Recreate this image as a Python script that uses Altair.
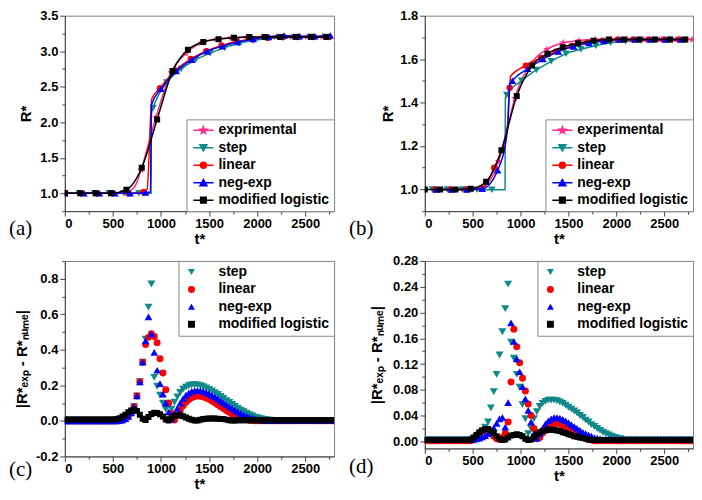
import altair as alt
import pandas as pd

# ---------------- panel (a): R* vs t* ----------------
a_names = ["exprimental", "step", "linear", "neg-exp", "modified logistic"]

a_exp_t = [0, 155, 320, 475, 640, 794, 948, 1105, 1260, 1420, 1575, 1730, 1890, 2050, 2200, 2360, 2520, 2680]
a_exp_r = [1.0, 1.0, 1.0, 1.0, 1.02, 1.33, 2.07, 2.70, 2.97, 3.12, 3.17, 3.19, 3.20, 3.20, 3.20, 3.20, 3.20, 3.20]
a_exp_xt = [720, 870]
a_exp_xr = [1.08, 1.70]

a_step_t = [0, 150, 310, 460, 615, 770, 918, 1060, 1210, 1360, 1510, 1660, 1810, 1960, 2110, 2260, 2410, 2560, 2710]
a_step_r = [1.0, 1.0, 1.0, 1.0, 1.0, 1.0, 2.2, 2.56, 2.75, 2.88, 2.97, 3.05, 3.11, 3.15, 3.18, 3.19, 3.20, 3.20, 3.20]
a_step_xt = [897, 900]
a_step_xr = [1.0, 2.12]

a_lin_t = [0, 170, 330, 500, 660, 820, 990, 1150, 1310, 1470, 1630, 1790, 1950, 2110, 2270, 2430, 2590, 2750]
a_lin_r = [1.0, 1.0, 1.0, 1.0, 1.0, 1.02, 2.48, 2.73, 2.89, 3.0, 3.08, 3.14, 3.17, 3.19, 3.20, 3.20, 3.20, 3.20]
a_lin_xt = [855, 905]
a_lin_xr = [1.05, 2.33]

a_neg_t = [0, 200, 360, 520, 680, 840, 1000, 1160, 1320, 1480, 1640, 1800, 1960, 2120, 2280, 2440, 2600, 2760]
a_neg_r = [1.0, 1.0, 1.0, 1.0, 1.0, 1.01, 2.47, 2.72, 2.88, 3.0, 3.07, 3.13, 3.17, 3.20, 3.22, 3.21, 3.21, 3.22]
a_neg_xt = [890, 902]
a_neg_xr = [1.02, 2.25]

a_log_t = [0, 160, 320, 480, 640, 800, 960, 1120, 1280, 1440, 1600, 1760, 1920, 2080, 2240, 2400, 2560, 2720]
a_log_r = [1.0, 1.0, 1.0, 1.0, 1.05, 1.36, 2.04, 2.72, 3.02, 3.13, 3.17, 3.19, 3.20, 3.20, 3.20, 3.20, 3.20, 3.20]

# ---------------- panel (b): R* vs t* ----------------
b_names = ["experimental", "step", "linear", "neg-exp", "modified logistic"]

b_exp_t = [95, 265, 430, 600, 770, 940, 1110, 1275, 1445, 1610, 1780, 1950, 2115, 2285, 2450, 2620, 2790]
b_exp_r = [1.0, 1.0, 1.0, 1.01, 1.13, 1.42, 1.58, 1.645, 1.675, 1.685, 1.69, 1.69, 1.69, 1.69, 1.69, 1.69, 1.69]
b_exp_xt = [870]
b_exp_xr = [1.3]

b_step_t = [80, 235, 390, 545, 700, 855, 1010, 1165, 1320, 1475, 1630, 1785, 1940, 2095, 2250, 2405, 2560, 2715]
b_step_r = [1.0, 1.0, 1.0, 0.998, 0.998, 1.435, 1.50, 1.55, 1.59, 1.625, 1.645, 1.662, 1.675, 1.682, 1.686, 1.688, 1.688, 1.688]
b_step_xt = [838, 841]
b_step_xr = [0.998, 1.42]

b_lin_t = [110, 270, 430, 590, 725, 886, 1055, 1215, 1375, 1535, 1695, 1855, 2015, 2175, 2335, 2495, 2655]
b_lin_r = [1.0, 1.0, 1.0, 1.005, 1.1, 1.468, 1.57, 1.605, 1.635, 1.66, 1.676, 1.685, 1.69, 1.69, 1.69, 1.69, 1.69]
b_lin_xt = [860, 895]
b_lin_xr = [1.28, 1.52]

b_neg_t = [120, 280, 440, 600, 761, 915, 1075, 1235, 1395, 1555, 1715, 1875, 2035, 2195, 2355, 2515, 2675]
b_neg_r = [1.0, 1.0, 1.0, 1.003, 1.088, 1.50, 1.555, 1.60, 1.635, 1.658, 1.674, 1.684, 1.69, 1.69, 1.69, 1.69, 1.69]
b_neg_xt = [865, 885]
b_neg_xr = [1.28, 1.48]

b_log_t = [0, 160, 320, 480, 640, 800, 960, 1120, 1280, 1440, 1600, 1760, 1920, 2080, 2240, 2400, 2560, 2720]
b_log_r = [1.0, 1.0, 1.0, 1.003, 1.035, 1.18, 1.43, 1.57, 1.625, 1.655, 1.673, 1.685, 1.69, 1.69, 1.69, 1.69, 1.69, 1.69]

# ---------------- panels (c), (d): |R*exp - R*nume| ----------------
cd_names = ["step", "linear", "neg-exp", "modified logistic"]
cd_t = list(range(0, 2800, 30))

c_step = [0, 0, 0, 0, 0, 0, 0, 0, 0, 0,
          0, 0, 0, 0, 0, 0, 0, 0, 0, 0.002,
          0.005, 0.012, 0.025, 0.045, 0.08, 0.14, 0.22, 0.33, 0.46, 0.64,
          0.77, 0.245, 0.195, 0.145, 0.10, 0.065, 0.01, 0.065, 0.105, 0.135,
          0.16, 0.178, 0.19, 0.198, 0.202, 0.203, 0.202, 0.198, 0.192, 0.185,
          0.177, 0.168, 0.158, 0.148, 0.137, 0.126, 0.114, 0.103, 0.092, 0.081,
          0.07, 0.06, 0.051, 0.042, 0.034, 0.027, 0.021, 0.016, 0.012, 0.008,
          0.006, 0.004, 0.003, 0.003, 0.003, 0.003, 0.003, 0.003, 0.003, 0.003,
          0.003, 0.003, 0.003, 0.003, 0.003, 0.003, 0.003, 0.003, 0.003, 0.003,
          0.003, 0.003, 0.003, 0.003]
c_lin = [0, 0, 0, 0, 0, 0, 0, 0, 0, 0,
         0, 0, 0, 0, 0, 0, 0, 0, 0, 0.002,
         0.005, 0.012, 0.025, 0.045, 0.08, 0.14, 0.22, 0.33, 0.43, 0.47,
         0.49, 0.475, 0.44, 0.35, 0.27, 0.175, 0.10, 0.04, 0.005, 0.03,
         0.06, 0.085, 0.105, 0.12, 0.13, 0.137, 0.14, 0.139, 0.135, 0.129,
         0.121, 0.112, 0.102, 0.091, 0.08, 0.069, 0.058, 0.048, 0.039, 0.03,
         0.023, 0.016, 0.011, 0.007, 0.004, 0.002, 0, 0, 0, 0,
         0, 0, 0, 0, 0, 0, 0, 0, 0, 0,
         0, 0, 0, 0, 0, 0, 0, 0, 0, 0,
         0, 0, 0, 0]
c_neg = [0, 0, 0, 0, 0, 0, 0, 0, 0, 0,
         0, 0, 0, 0, 0, 0, 0, 0, 0, 0.002,
         0.005, 0.012, 0.025, 0.045, 0.08, 0.14, 0.22, 0.33, 0.45, 0.585,
         0.49, 0.385, 0.285, 0.21, 0.15, 0.10, 0.05, 0.01, 0.04, 0.07,
         0.10, 0.125, 0.145, 0.158, 0.166, 0.17, 0.171, 0.17, 0.166, 0.16,
         0.153, 0.144, 0.135, 0.125, 0.114, 0.103, 0.092, 0.081, 0.07, 0.06,
         0.051, 0.042, 0.034, 0.027, 0.021, 0.016, 0.012, 0.008, 0.006, 0.004,
         0.003, 0.003, 0.003, 0.003, 0.003, 0.003, 0.003, 0.003, 0.003, 0.003,
         0.003, 0.003, 0.003, 0.003, 0.003, 0.003, 0.003, 0.003, 0.003, 0.003,
         0.003, 0.003, 0.003, 0.003]
c_log = [0.008, 0.008, 0.008, 0.008, 0.008, 0.008, 0.008, 0.008, 0.008, 0.008,
         0.008, 0.008, 0.008, 0.008, 0.008, 0.008, 0.008, 0.008, 0.01, 0.015,
         0.025, 0.035, 0.048, 0.058, 0.063, 0.055, 0.035, 0.012, 0.005, 0.022,
         0.038, 0.046, 0.045, 0.037, 0.024, 0.008, 0.002, 0.014, 0.027, 0.032,
         0.031, 0.026, 0.019, 0.012, 0.006, 0.002, 0.002, 0.006, 0.01, 0.012,
         0.013, 0.013, 0.013, 0.012, 0.011, 0.01, 0.007, 0.004, 0.002, 0.002,
         0.003, 0.004, 0.004, 0.004, 0.004, 0.004, 0.004, 0.004, 0.004, 0.004,
         0.004, 0.004, 0.004, 0.004, 0.004, 0.004, 0.004, 0.004, 0.004, 0.004,
         0.004, 0.004, 0.004, 0.004, 0.004, 0.004, 0.004, 0.004, 0.004, 0.004,
         0.004, 0.004, 0.004, 0.004]

d_step = [0.002, 0.002, 0.002, 0.002, 0.002, 0.002, 0.002, 0.002, 0.002, 0.002,
          0.002, 0.002, 0.002, 0.002, 0.002, 0.002, 0.002, 0.004, 0.007, 0.011,
          0.016, 0.022, 0.03, 0.052, 0.077, 0.104, 0.134, 0.17, 0.206, 0.244,
          0.154, 0.129, 0.104, 0.084, 0.057, 0.035, 0.012, 0.02, 0.035, 0.046,
          0.054, 0.059, 0.062, 0.064, 0.064, 0.064, 0.063, 0.061, 0.059, 0.056,
          0.053, 0.05, 0.047, 0.044, 0.04, 0.037, 0.033, 0.03, 0.026, 0.023,
          0.02, 0.017, 0.014, 0.012, 0.01, 0.008, 0.006, 0.005, 0.004, 0.003,
          0.002, 0.002, 0.002, 0.002, 0.002, 0.002, 0.002, 0.002, 0.002, 0.002,
          0.002, 0.002, 0.002, 0.002, 0.002, 0.002, 0.002, 0.002, 0.002, 0.002,
          0.002, 0.002, 0.002, 0.002]
d_lin = [0.001, 0.001, 0.001, 0.001, 0.001, 0.001, 0.001, 0.001, 0.001, 0.001,
         0.001, 0.001, 0.001, 0.001, 0.001, 0.001, 0.001, 0.003, 0.007, 0.012,
         0.016, 0.018, 0.017, 0.013, 0.008, 0.004, 0.003, 0.006, 0.012, 0.03,
         0.092, 0.174, 0.147, 0.122, 0.098, 0.078, 0.058, 0.04, 0.02, 0.004,
         0.006, 0.013, 0.019, 0.024, 0.027, 0.028, 0.028, 0.027, 0.025, 0.023,
         0.02, 0.017, 0.014, 0.011, 0.009, 0.007, 0.005, 0.003, 0.002, 0.001,
         0.001, 0.001, 0.001, 0.001, 0.001, 0.001, 0.001, 0.001, 0.001, 0.001,
         0.001, 0.001, 0.001, 0.001, 0.001, 0.001, 0.001, 0.001, 0.001, 0.001,
         0.001, 0.001, 0.001, 0.001, 0.001, 0.001, 0.001, 0.001, 0.001, 0.001,
         0.001, 0.001, 0.001, 0.001]
d_neg = [0.003, 0.003, 0.003, 0.003, 0.003, 0.003, 0.003, 0.003, 0.003, 0.003,
         0.003, 0.003, 0.003, 0.003, 0.003, 0.003, 0.003, 0.003, 0.004, 0.005,
         0.007, 0.009, 0.012, 0.016, 0.021, 0.028, 0.035, 0.037, 0.022, 0.06,
         0.184, 0.155, 0.128, 0.108, 0.085, 0.066, 0.048, 0.03, 0.012, 0.005,
         0.012, 0.02, 0.027, 0.032, 0.035, 0.037, 0.037, 0.036, 0.034, 0.032,
         0.029, 0.026, 0.023, 0.02, 0.017, 0.014, 0.012, 0.01, 0.008, 0.006,
         0.005, 0.004, 0.003, 0.003, 0.003, 0.003, 0.003, 0.003, 0.003, 0.003,
         0.003, 0.003, 0.003, 0.003, 0.003, 0.003, 0.003, 0.003, 0.003, 0.003,
         0.003, 0.003, 0.003, 0.003, 0.003, 0.003, 0.003, 0.003, 0.003, 0.003,
         0.003, 0.003, 0.003, 0.003]
d_log = [0.002, 0.002, 0.002, 0.002, 0.002, 0.002, 0.002, 0.002, 0.002, 0.002,
         0.002, 0.002, 0.002, 0.002, 0.002, 0.002, 0.003, 0.006, 0.01, 0.014,
         0.017, 0.019, 0.019, 0.017, 0.013, 0.008, 0.004, 0.002, 0.003, 0.006,
         0.009, 0.01, 0.011, 0.01, 0.008, 0.004, 0.002, 0.003, 0.007, 0.011,
         0.014, 0.016, 0.017, 0.018, 0.018, 0.018, 0.017, 0.016, 0.014, 0.013,
         0.011, 0.01, 0.008, 0.007, 0.006, 0.005, 0.004, 0.003, 0.002, 0.002,
         0.002, 0.002, 0.002, 0.002, 0.002, 0.002, 0.002, 0.002, 0.002, 0.002,
         0.002, 0.002, 0.002, 0.002, 0.002, 0.002, 0.002, 0.002, 0.002, 0.002,
         0.002, 0.002, 0.002, 0.002, 0.002, 0.002, 0.002, 0.002, 0.002, 0.002,
         0.002, 0.002, 0.002, 0.002]

# axis tick positions
x_ticks = [0, 250, 500, 750, 1000, 1250, 1500, 1750, 2000, 2250, 2500, 2750]
a_yticks = [0.75, 1.0, 1.25, 1.5, 1.75, 2.0, 2.25, 2.5, 2.75, 3.0, 3.25, 3.5]
b_yticks = [0.9, 1.0, 1.1, 1.2, 1.3, 1.4, 1.5, 1.6, 1.7, 1.8]
c_yticks = [-0.2, -0.1, 0.0, 0.1, 0.2, 0.3, 0.4, 0.5, 0.6, 0.7, 0.8, 0.9]
d_yticks = [0.0, 0.02, 0.04, 0.06, 0.08, 0.10, 0.12, 0.14, 0.16, 0.18, 0.20, 0.22, 0.24, 0.26, 0.28]

# ---------------- styling ----------------
FONT = "Liberation Sans"
SERIF = "Liberation Serif"
C_EXP, C_STEP, C_LIN, C_NEG, C_LOG = "#FF2A8C", "#0F8A8A", "#FF0000", "#0000FF", "#000000"
STAR = ("M0,-1L0.235,-0.324L0.951,-0.309L0.38,0.124L0.588,0.809L0,0.4"
        "L-0.588,0.809L-0.38,0.124L-0.951,-0.309L-0.235,-0.324Z")
TRI_UP = "M0,-0.9L1,0.85L-1,0.85Z"
TRI_DN = "M0,0.9L1,-0.85L-1,-0.85Z"
CIRC = "M-0.85,0A0.85,0.85 0 1,0 0.85,0A0.85,0.85 0 1,0 -0.85,0Z"
SQR = "M-0.8,-0.8H0.8V0.8H-0.8Z"
SEG = "M-2.9,0H2.9"
XS = alt.Scale(domain=[0, 2800], nice=False, zero=False)

AX_STYLE = dict(labelFont=FONT, labelFontWeight="bold", labelFontSize=13, labelColor="black",
                titleFont=FONT, titleFontWeight="bold", titleFontSize=15, titleColor="black",
                domainColor="#444444", tickColor="#444444", grid=False, labelOverlap=False)


def is_major(step):
    return f"abs(datum.value / {step} - round(datum.value / {step})) < 1e-6"


def x_axis():
    test = is_major(500)
    return alt.Axis(values=x_ticks, title="t*", labelExpr=f"{test} ? format(datum.value, 'd') : ''",
                    tickSize={"condition": {"test": test, "value": 5}, "value": 3},
                    labelPadding=1, titlePadding=1, **AX_STYLE)


def y_axis(values, step, fmt, title, tpad):
    test = is_major(step)
    return alt.Axis(values=values, title=title,
                    labelExpr=f"{test} ? replace(format(datum.value, '{fmt}'), '\u2212', '-') : ''",
                    tickSize={"condition": {"test": test, "value": 5}, "value": 3},
                    labelPadding=2, titlePadding=tpad, **AX_STYLE)


def legend(orient, label_offset, symbol_offset):
    return alt.Legend(title=None, orient=orient, offset=0, padding=4, rowPadding=3.5,
                      labelFont=FONT, labelFontWeight="bold", labelFontSize=14, labelColor="black",
                      labelOffset=label_offset, symbolOffset=symbol_offset, symbolSize=49,
                      symbolStrokeWidth=1.5, symbolOpacity=1, strokeColor="#8a8a8a",
                      fillColor="white", labelLimit=260)


def enc(ys, xax, yax):
    return dict(x=alt.X("t:Q", scale=XS, axis=xax), y=alt.Y("v:Q", scale=ys, axis=yax))


def tag_layer(tag, dx, dy):
    return alt.Chart(pd.DataFrame({"tag": [tag]})).mark_text(
        font=SERIF, fontSize=21, align="left", baseline="middle", color="black"
    ).encode(x=alt.value(dx), y=alt.value(dy), text="tag:N")


def line_panel(series, names, ydom, yax, W, H, tag, tag_dx, tag_dy):
    ys = alt.Scale(domain=ydom, nice=False, zero=False)
    xax = x_axis()
    layers = []
    for (mt, mv, xt, xv, color, shape, size) in series:
        ldf = pd.DataFrame({"t": mt + xt, "v": mv + xv}).sort_values("t")
        layers.append(alt.Chart(ldf).mark_line(color=color, strokeWidth=1.5, interpolate="monotone",
                                                clip=True).encode(**enc(ys, xax, yax)))
        layers.append(alt.Chart(pd.DataFrame({"t": mt, "v": mv})).mark_point(
            shape=shape, filled=True, size=size, color=color, opacity=1, clip=True
        ).encode(**enc(ys, xax, yax)))
    colors = [s[4] for s in series]
    paths = [SEG + p for p in [STAR, TRI_DN, CIRC, TRI_UP, SQR]]
    lg = legend("bottom-right", 8, 6)
    ldf = pd.DataFrame({"t": [s[0][0] for s in series], "v": [s[1][0] for s in series], "series": names})
    layers.append(alt.Chart(ldf).mark_point(filled=True, opacity=0).encode(
        **enc(ys, xax, yax),
        fill=alt.Fill("series:N", scale=alt.Scale(domain=names, range=colors), legend=lg),
        stroke=alt.Stroke("series:N", scale=alt.Scale(domain=names, range=colors), legend=lg),
        shape=alt.Shape("series:N", scale=alt.Scale(domain=names, range=paths), legend=lg),
    ))
    layers.append(tag_layer(tag, tag_dx, H + tag_dy))
    return alt.layer(*layers).properties(width=W, height=H)


def scatter_panel(values, ydom, yax, W, H, tag, tag_dx, tag_dy):
    ys = alt.Scale(domain=ydom, nice=False, zero=False)
    xax = x_axis()
    colors = [C_STEP, C_LIN, C_NEG, C_LOG]
    shapes = ["triangle-down", "circle", "triangle-up", "square"]
    sizes = [64, 49, 60, 36]
    layers = []
    for vals, c, s, sz in zip(values, colors, shapes, sizes):
        layers.append(alt.Chart(pd.DataFrame({"t": cd_t, "v": vals})).mark_point(
            shape=s, filled=True, size=sz, color=c, opacity=1, clip=True
        ).encode(**enc(ys, xax, yax)))
    lg = legend("top-right", 20, 2)
    ldf = pd.DataFrame({"t": [cd_t[0]] * 4, "v": [v[0] for v in values], "series": cd_names})
    layers.append(alt.Chart(ldf).mark_point(filled=True, opacity=0).encode(
        **enc(ys, xax, yax),
        fill=alt.Fill("series:N", scale=alt.Scale(domain=cd_names, range=colors), legend=lg),
        shape=alt.Shape("series:N", scale=alt.Scale(domain=cd_names, range=shapes), legend=lg),
    ))
    layers.append(tag_layer(tag, tag_dx, H + tag_dy))
    return alt.layer(*layers).properties(width=W, height=H)


pa = line_panel(
    [(a_exp_t, a_exp_r, a_exp_xt, a_exp_xr, C_EXP, STAR, 64),
     (a_step_t, a_step_r, a_step_xt, a_step_xr, C_STEP, "triangle-down", 56),
     (a_lin_t, a_lin_r, a_lin_xt, a_lin_xr, C_LIN, "circle", 42),
     (a_neg_t, a_neg_r, a_neg_xt, a_neg_xr, C_NEG, "triangle-up", 56),
     (a_log_t, a_log_r, [], [], C_LOG, "square", 36)],
    a_names, [0.75, 3.5], y_axis(a_yticks, 0.5, ".1f", "R*", 6), 270, 196, "(a)", -56, 18)

pb = line_panel(
    [(b_exp_t, b_exp_r, b_exp_xt, b_exp_xr, C_EXP, STAR, 64),
     (b_step_t, b_step_r, b_step_xt, b_step_xr, C_STEP, "triangle-down", 56),
     (b_lin_t, b_lin_r, b_lin_xt, b_lin_xr, C_LIN, "circle", 42),
     (b_neg_t, b_neg_r, b_neg_xt, b_neg_xr, C_NEG, "triangle-up", 56),
     (b_log_t, b_log_r, [], [], C_LOG, "square", 36)],
    b_names, [0.9, 1.8], y_axis(b_yticks, 0.2, ".1f", "R*", 4), 269, 196, "(b)", -76, 18)

ctitle = "|R*\u2091\u2093\u209a - R*\u2099\u1d64\u2098\u2091|"
pc = scatter_panel([c_step, c_lin, c_neg, c_log], [-0.2, 0.9],
                   y_axis(c_yticks, 0.2, ".1f", ctitle, 6), 270, 196, "(c)", -56, 14)
pd_ = scatter_panel([d_step, d_lin, d_neg, d_log], [-0.011, 0.28],
                    y_axis(d_yticks, 0.04, ".2f", ctitle, 8), 269, 188, "(d)", -76, 19)

chart = alt.concat(pa, pb, pc, pd_, columns=2, spacing={"row": 50, "column": 91}, bounds="flush").properties(
    padding=0
).resolve_scale(
    x="independent", y="independent", fill="independent", stroke="independent", shape="independent"
).resolve_legend(
    fill="independent", stroke="independent", shape="independent"
).configure_view(
    stroke="#808080", strokeWidth=1
).configure_axis(
    labelFont=FONT, labelFontWeight="bold", labelFontSize=13, labelColor="black",
    titleFont=FONT, titleFontWeight="bold", titleFontSize=15, titleColor="black",
    domainColor="#444444", tickColor="#444444", grid=False
)

chart.save("out.html", embed_options={"renderer": "svg", "actions": False})
